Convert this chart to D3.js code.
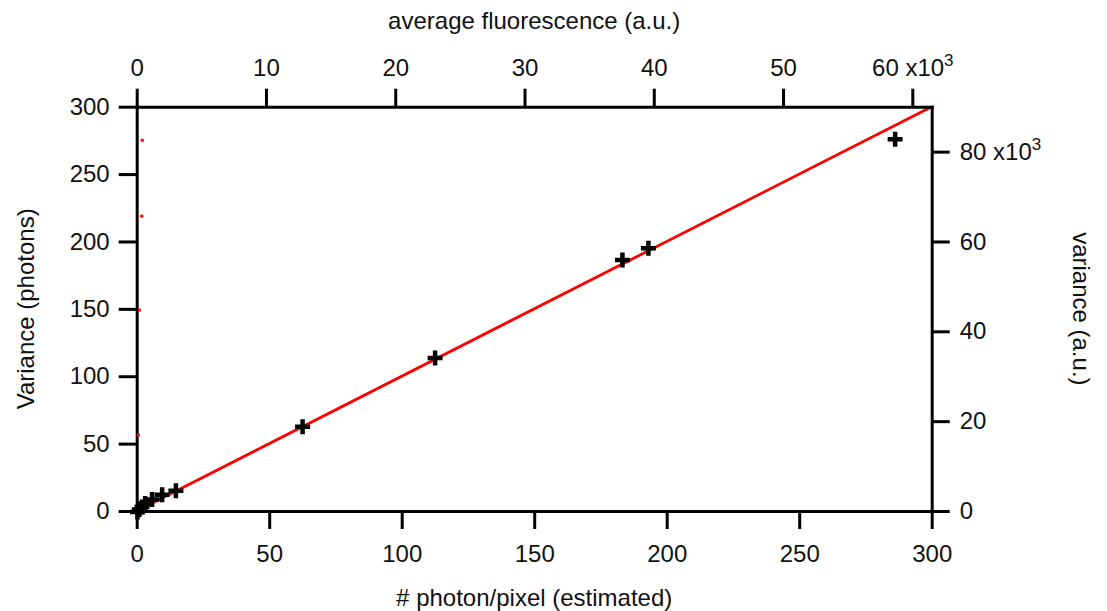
<!DOCTYPE html>
<html>
<head>
<meta charset="utf-8">
<script src="https://cdn.jsdelivr.net/npm/d3@7"></script>
<style>
  html, body { margin: 0; padding: 0; background: #fff; }
  svg { display: block; font-family: "Liberation Sans", Arial, sans-serif; }
  .axis text { font-size: 24px; fill: #111; font-family: "Liberation Sans", Arial, sans-serif; }
  .axis path, .axis line { stroke: #000; stroke-width: 3; }
</style>
</head>
<body>
<svg id="chart" width="1107" height="611"></svg>
<script>
// ---- data ----
const photonsPerPixel = [0.3, 1.0, 2.0, 3.2, 5.8, 9.6, 14.8, 62.6, 112.6, 183.3, 193.1, 286.2];
const variancePhotons = [-0.8, 1.2, 3.0, 5.5, 8.5, 12.0, 15.0, 62.6, 113.5, 186.2, 194.9, 275.8];
const redDotsX = [0.6, 1.0, 1.9, 2.1];
const redDotsY = [56.4, 149.1, 218.8, 275.1];
const fitX = [0, 300];
const fitY = [0, 300];
const bottomTicks = [0, 50, 100, 150, 200, 250, 300];
const leftTicks = [0, 50, 100, 150, 200, 250, 300];
const topTicks = [0, 10, 20, 30, 40, 50, 60];
const rightTicks = [0, 20, 40, 60, 80];
const titles = {
  top: "average fluorescence (a.u.)",
  bottom: "# photon/pixel (estimated)",
  left: "Variance (photons)",
  right: "variance (a.u.)"
};

// ---- scales ----
const L = 136.7, R = 931.7, T = 106.7, B = 511;
const x = d3.scaleLinear().domain([0, 300]).range([L, R]);
const y = d3.scaleLinear().domain([0, 300]).range([B, T]);
const xTop = d3.scaleLinear().domain([0, 61.5]).range([L, R]);
const yRight = d3.scaleLinear().domain([0, 90]).range([B, T]);

const svg = d3.select("#chart");

// ---- fit line ----
svg.append("path")
  .datum(fitX.map((v, i) => [v, fitY[i]]))
  .attr("d", d3.line().x(d => x(d[0])).y(d => y(d[1])))
  .attr("fill", "none").attr("stroke", "#ff0000").attr("stroke-width", 2.8);

// ---- crosses ----
const cs = 7.5;
const crosses = svg.append("g").selectAll("g")
  .data(photonsPerPixel.map((v, i) => [v, variancePhotons[i]]))
  .join("g")
  .attr("transform", d => `translate(${x(d[0])},${y(d[1])})`);
crosses.append("path")
  .attr("d", `M${-cs},0H${cs}M0,${-cs}V${cs}`)
  .attr("stroke", "#000").attr("stroke-width", 4.5);

// ---- axes ----
const gB = svg.append("g").attr("class", "axis").attr("transform", `translate(0,${B})`)
  .call(d3.axisBottom(x).tickValues(bottomTicks).tickSize(18).tickSizeOuter(0).tickPadding(16));
const gL = svg.append("g").attr("class", "axis").attr("transform", `translate(${L},0)`)
  .call(d3.axisLeft(y).tickValues(leftTicks).tickSize(18).tickSizeOuter(0).tickPadding(9));
const gT = svg.append("g").attr("class", "axis").attr("transform", `translate(0,${T})`)
  .call(d3.axisTop(xTop).tickValues(topTicks).tickSize(18).tickSizeOuter(0).tickPadding(13));
const gR = svg.append("g").attr("class", "axis").attr("transform", `translate(${R},0)`)
  .call(d3.axisRight(yRight).tickValues(rightTicks).tickSize(18).tickSizeOuter(0).tickPadding(10));

svg.selectAll(".axis .domain").attr("stroke-linecap", "square");

// ---- red dots (on top) ----
svg.append("g").selectAll("rect").data(redDotsX.map((v, i) => [v, redDotsY[i]]))
  .join("rect")
  .attr("x", d => x(d[0]) - 1.5).attr("y", d => y(d[1]) - 1.5)
  .attr("width", 3).attr("height", 3).attr("fill", "#ff0000");

// add "x10^3" to last tick labels of top and right axes
function addExp(g, lastVal) {
  g.selectAll(".tick text").filter(d => d === lastVal).each(function(d) {
    const t = d3.select(this);
    t.text(null);
    t.append("tspan").text(d + " x10");
    t.append("tspan").attr("dy", "-0.6em").attr("font-size", "17px").text("3");
  });
}
addExp(gT, 60);
addExp(gR, 80);

// ---- titles ----
svg.append("text").attr("x", (L + R) / 2).attr("y", 29)
  .attr("text-anchor", "middle").attr("font-size", 24).attr("fill", "#111").text(titles.top);
svg.append("text").attr("x", (L + R) / 2).attr("y", 606)
  .attr("text-anchor", "middle").attr("font-size", 24).attr("fill", "#111").text(titles.bottom);
svg.append("text").attr("transform", `translate(34,${(T + B) / 2}) rotate(-90)`)
  .attr("text-anchor", "middle").attr("font-size", 24).attr("fill", "#111").text(titles.left);
svg.append("text").attr("transform", `translate(1073,${(T + B) / 2}) rotate(90)`)
  .attr("text-anchor", "middle").attr("font-size", 24).attr("fill", "#111").text(titles.right);
</script>
</body>
</html>
